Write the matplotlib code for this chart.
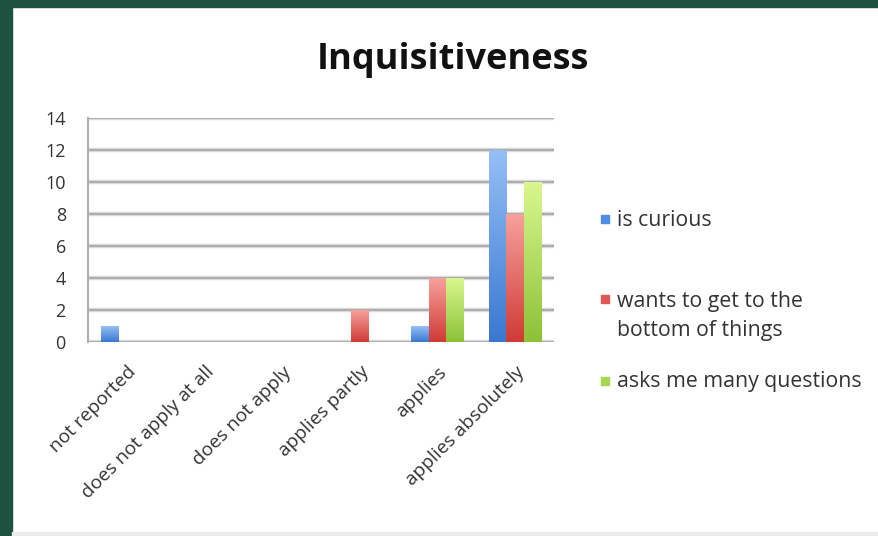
import numpy as np
import matplotlib
matplotlib.use("Agg")
import matplotlib.pyplot as plt
from matplotlib.patches import Rectangle
from matplotlib.colors import LinearSegmentedColormap

categories = ["not reported", "does not apply at all", "does not apply",
              "applies partly", "applies", "applies absolutely"]
series_names = ["is curious", "wants to get to the\nbottom of things", "asks me many questions"]
is_curious = [1, 0, 0, 0, 1, 12]
bottom_of_things = [0, 0, 0, 2, 4, 8]
many_questions = [0, 0, 0, 0, 4, 10]
y_ticks = [0, 2, 4, 6, 8, 10, 12, 14]
title = "Inquisitiveness"

series = [is_curious, bottom_of_things, many_questions]
grad = [("#3a78d0", "#95bff7"), ("#cf3b36", "#f7a09b"), ("#8cc236", "#d8f78f")]
solid = ["#4f8de0", "#e05a55", "#a8d84e"]

plt.rcParams['font.family'] = ['Open Sans', 'DejaVu Sans']

W, H = 879, 536
fig = plt.figure(figsize=(W / 100, H / 100), dpi=100)
fig.patch.set_facecolor("white")

# frame decorations
fig.patches.append(Rectangle((0, 0), 12 / W, 1, transform=fig.transFigure,
                             color="#1f5140", zorder=0))
fig.patches.append(Rectangle((0, 1 - 7 / H), 1, 7 / H, transform=fig.transFigure,
                             color="#1f5140", zorder=0))
fig.patches.append(Rectangle((12 / W, 0), 1, 4 / H, transform=fig.transFigure,
                             color="#ececec", zorder=0))

ax = fig.add_axes([88 / W, 194 / H, 466 / W, 224 / H])
ax.set_facecolor("white")

x = np.arange(len(categories))
bw = 0.225
offsets = [-bw, 0, bw]
for s, vals in enumerate(series):
    bars = ax.bar(x + offsets[s], vals, width=bw, color=solid[s], zorder=3,
                  linewidth=0)
    cmap = LinearSegmentedColormap.from_list("g%d" % s, [grad[s][0], grad[s][1]])
    for b in bars:
        h = b.get_height()
        if h <= 0:
            continue
        x0 = b.get_x()
        g = np.linspace(0, 1, 100).reshape(-1, 1)
        im = ax.imshow(g, extent=(x0, x0 + b.get_width(), 0, h), origin="lower",
                       aspect="auto", cmap=cmap, zorder=4)
        im.set_clip_path(b)

ax.set_xlim(-0.5, len(categories) - 0.5)
ax.set_ylim(0, 14)
ax.set_yticks(y_ticks)
for yv in y_ticks:
    ax.axhline(yv, color="#dadada", lw=3.2, zorder=1)
    ax.axhline(yv, color="#a9a9a9", lw=1.3, zorder=2)

for sp in ["top", "right", "bottom"]:
    ax.spines[sp].set_visible(False)
ax.spines["left"].set_color("#b0b0b0")
ax.spines["left"].set_linewidth(1.5)

ax.tick_params(axis="y", length=0, pad=16, labelsize=13, labelcolor="#333333")
ax.tick_params(axis="x", length=0, pad=15, labelsize=13.8, labelcolor="#333333")
ax.set_xticks(x)
ax.set_xticklabels(categories, rotation=45, ha="right", rotation_mode="anchor")

fig.text(453 / W, 1 - 60 / H, title, ha="center", va="center",
         fontsize=26, fontweight="bold", color="#111111")

# legend
leg_y = [220, 316, 382]
for s, yy in enumerate(leg_y):
    ly = yy if s != 1 else 300
    fig.patches.append(Rectangle((601 / W, 1 - (ly + 3) / H), 8 / W, 8 / H,
                                 transform=fig.transFigure, color=solid[s]))
    fig.text(617 / W, 1 - yy / H, series_names[s], ha="left", va="center",
             fontsize=15.3, color="#333333", linespacing=1.55)

fig.savefig("out.png", dpi=100)
